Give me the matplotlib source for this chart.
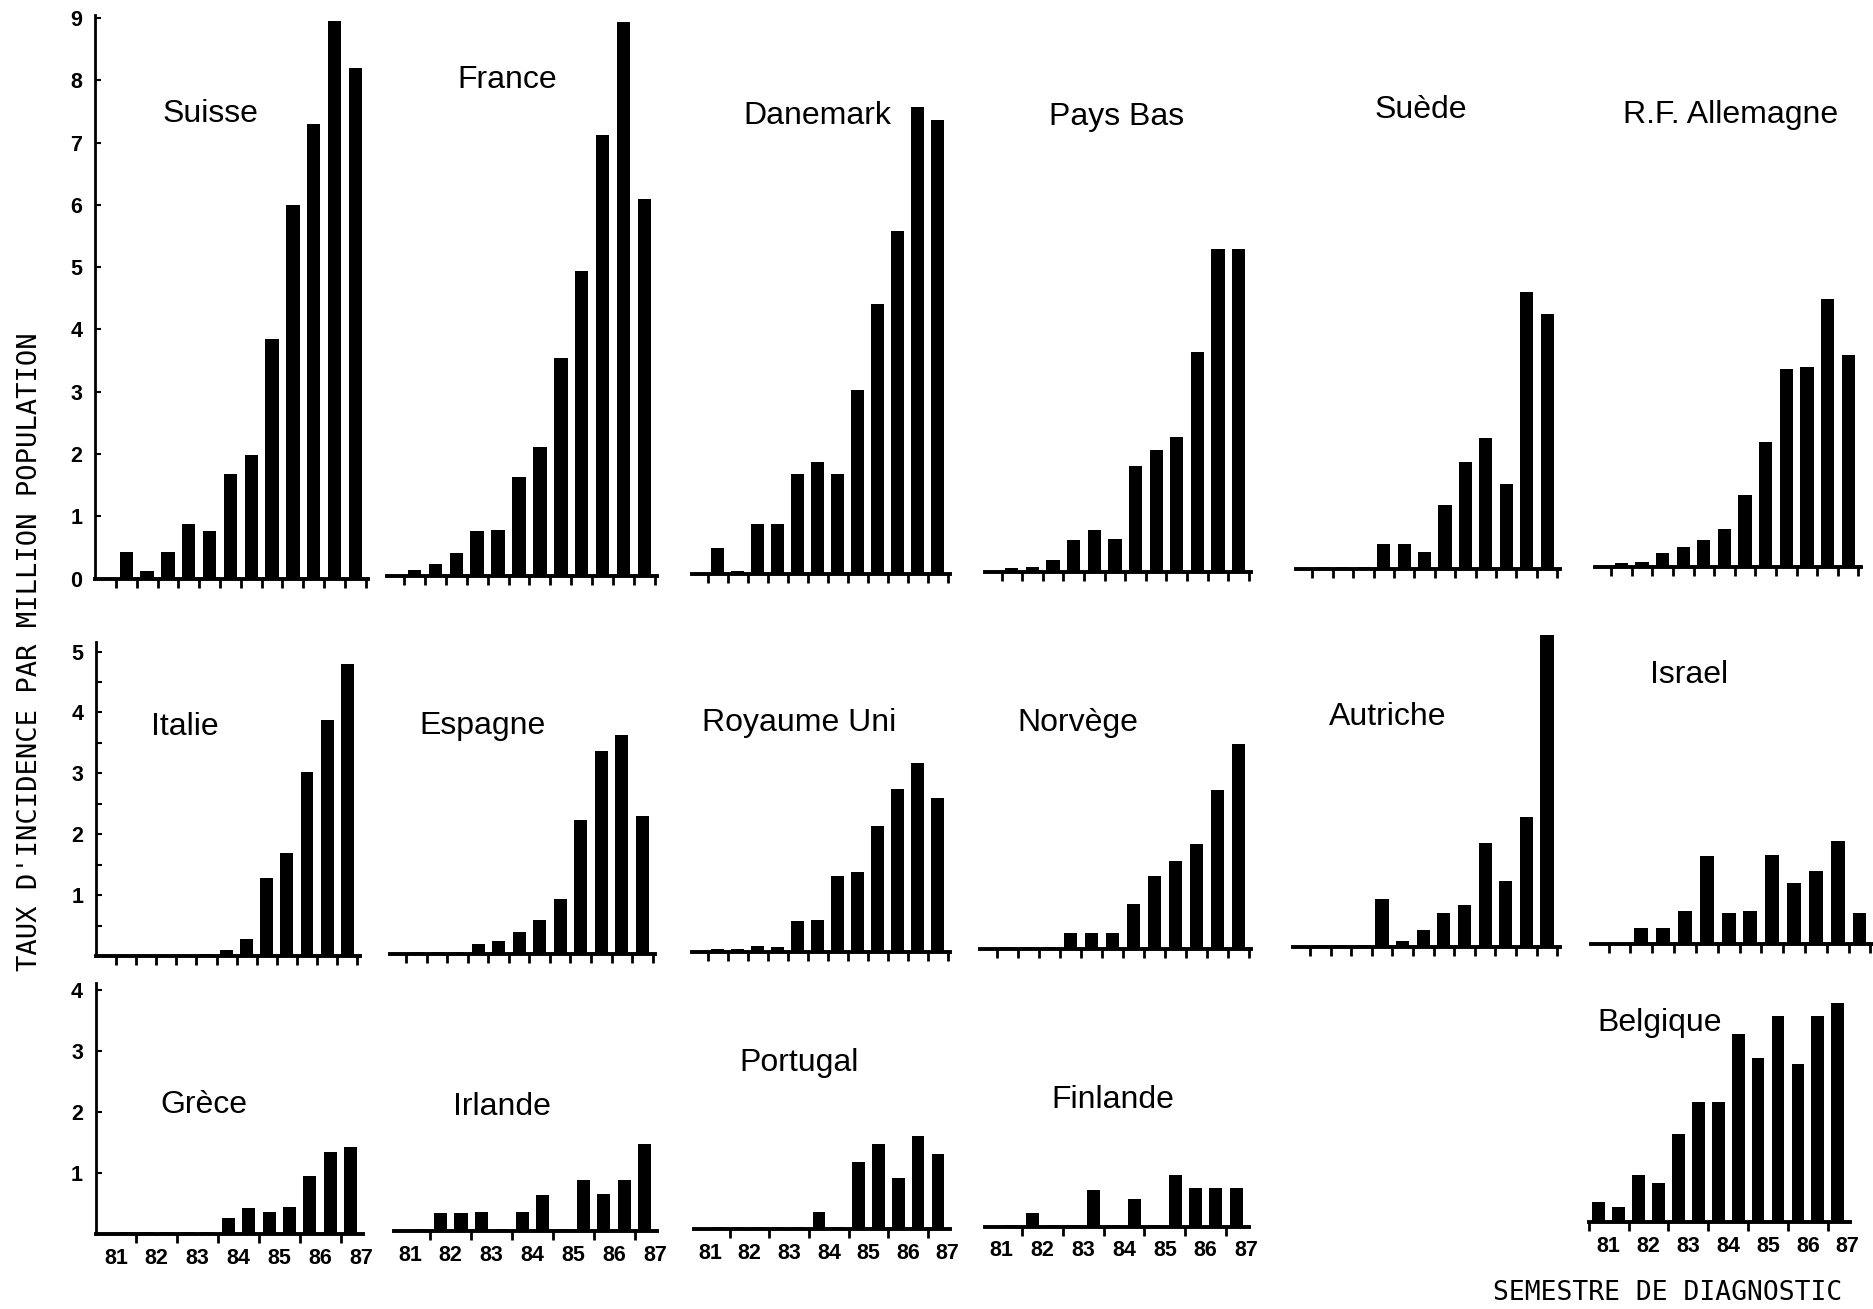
import numpy as np
import matplotlib
matplotlib.use("Agg")
import matplotlib.pyplot as plt

# ---------------- data (incidence per million, by semester 81-1 ... 86-2) ----------------
year_labels = ["81", "82", "83", "84", "85", "86", "87"]

suisse    = [0.42, 0.12, 0.42, 0.88, 0.76, 1.68, 1.98, 3.85, 6.00, 7.30, 8.95, 8.20]
france    = [0.10, 0.20, 0.38, 0.72, 0.75, 1.60, 2.07, 3.50, 4.90, 7.08, 8.90, 6.05]
danemark  = [0.42, 0.04, 0.80, 0.80, 1.60, 1.80, 1.60, 2.95, 4.33, 5.50, 7.50, 7.28]
pays_bas  = [0.05, 0.08, 0.18, 0.50, 0.66, 0.52, 1.70, 1.95, 2.16, 3.52, 5.18, 5.18]
suede     = [0.03, 0.03, 0.03, 0.40, 0.40, 0.27, 1.03, 1.72, 2.10, 1.37, 4.45, 4.10]
allemagne = [0.06, 0.07, 0.22, 0.32, 0.42, 0.60, 1.15, 2.00, 3.17, 3.20, 4.30, 3.40]

italie    = [0.02, 0.02, 0.03, 0.03, 0.04, 0.11, 0.29, 1.28, 1.69, 3.03, 3.87, 4.80]
espagne   = [0.03, 0.04, 0.04, 0.17, 0.22, 0.36, 0.55, 0.90, 2.20, 3.33, 3.60, 2.27]
royaume   = [0.04, 0.04, 0.10, 0.08, 0.50, 0.52, 1.24, 1.31, 2.06, 2.66, 3.10, 2.52]
norvege   = [0.03, 0.03, 0.03, 0.26, 0.26, 0.26, 0.75, 1.20, 1.45, 1.72, 2.62, 3.36]
autriche  = [0.03, 0.03, 0.03, 0.78, 0.10, 0.28, 0.56, 0.69, 1.70, 1.08, 2.13, 5.12]
israel    = [0.03, 0.27, 0.27, 0.54, 1.45, 0.52, 0.54, 1.46, 1.00, 1.20, 1.70, 0.52]

grece     = [0.02, 0.02, 0.02, 0.02, 0.02, 0.26, 0.42, 0.35, 0.43, 0.94, 1.34, 1.43]
irlande   = [0.04, 0.30, 0.30, 0.32, 0.04, 0.31, 0.60, 0.04, 0.84, 0.62, 0.85, 1.43]
portugal  = [0.03, 0.03, 0.03, 0.03, 0.03, 0.27, 0.03, 1.10, 1.40, 0.83, 1.53, 1.23]
finlande  = [0.03, 0.22, 0.03, 0.03, 0.60, 0.03, 0.46, 0.03, 0.84, 0.63, 0.64, 0.64]
belgique  = [0.33, 0.25, 0.77, 0.63, 1.44, 1.96, 1.96, 3.08, 2.69, 3.37, 2.58, 3.37, 3.58]  # starts 80-2

# ---------------- layout (reference pixel grid 1568 x 1095) ----------------
W, H = 1568.0, 1095.0
SKEW = 10.0
rows = {
    1: dict(base=484, vu=52.1, ytop=9.05),
    2: dict(base=800, vu=51.0, ytop=5.15),
    3: dict(base=1032, vu=51.0, ytop=4.12),
}

# name, values, row, first-col?, tick0 px, tick12 px, title x, title y, first semester index
panels = [
    ("Suisse", suisse, 1, True, 97, 306, 176, 95, 0),
    ("France", france, 1, False, 338, 548, 424, 67, 0),
    ("Danemark", danemark, 1, False, 592, 793, 684, 97, 0),
    ("Pays Bas", pays_bas, 1, False, 838, 1045, 934, 98, 0),
    ("Suède", suede, 1, False, 1098, 1303, 1189, 92, 0),
    ("R.F. Allemagne", allemagne, 1, False, 1348, 1555, 1448, 96, 0),
    ("Italie", italie, 2, True, 97, 299, 155, 608, 0),
    ("Espagne", espagne, 2, False, 340, 546, 404, 607, 0),
    ("Royaume Uni", royaume, 2, False, 592, 793, 669, 605, 0),
    ("Norvège", norvege, 2, False, 834, 1045, 902, 605, 0),
    ("Autriche", autriche, 2, False, 1096, 1303, 1161, 600, 0),
    ("Israel", israel, 2, False, 1346, 1565, 1413, 565, 0),
    ("Grèce", grece, 3, True, 97, 302, 171, 924, 0),
    ("Irlande", irlande, 3, False, 343, 548, 420, 926, 0),
    ("Portugal", portugal, 3, False, 594, 793, 669, 889, 0),
    ("Finlande", finlande, 3, False, 838, 1043, 931, 920, 0),
    ("Belgique", belgique, 3, False, 1346, 1546, 1389, 856, -1),
]

TITLE_FONT = ["Liberation Sans", "DejaVu Sans"]
DIGIT_FONT = ["Liberation Sans Narrow", "Liberation Sans", "DejaVu Sans"]
MONO_FONT = ["DejaVu Sans Mono"]
DIGIT_SIZE = 15.5

fig = plt.figure(figsize=(18.74, 13.09), dpi=100)
fig.patch.set_facecolor("white")

for name, vals, row, firstcol, t0, t12, tx, ty, start in panels:
    r = rows[row]
    u = (t12 - t0) / 12.0
    xl = -1.0 if (firstcol or start < 0) else -0.8
    xr = 12.12
    base = r["base"] - SKEW * (t0 - 97) / 1250.0
    left_px = t0 + xl * u
    width_px = (xr - xl) * u
    height_px = r["ytop"] * r["vu"]
    ax = fig.add_axes([left_px / W, 1 - base / H, width_px / W, height_px / H])
    ax.patch.set_alpha(0)

    n = len(vals)
    x = np.arange(start, start + n) + 0.5
    ax.bar(x, vals, width=0.64, color="black", linewidth=0, zorder=2)

    ax.set_xlim(xl, xr)
    ax.set_ylim(0, r["ytop"])

    for s in ("top", "right"):
        ax.spines[s].set_visible(False)
    ax.spines["bottom"].set_linewidth(2.8)
    ax.spines["bottom"].set_zorder(3)
    if firstcol:
        ax.spines["left"].set_linewidth(2.0)
    else:
        ax.spines["left"].set_visible(False)

    # semester boundary ticks
    ax.set_xticks(np.arange(start, 13), minor=True)
    ax.tick_params(axis="x", which="minor", direction="out", length=6.5, width=2.0, color="black")
    if row == 3:
        ax.set_xticks(np.arange(0, 13, 2))
        ax.set_xticklabels(year_labels)
        ax.tick_params(axis="x", which="major", length=0, pad=10)
        for lab in ax.get_xticklabels():
            lab.set_fontfamily(DIGIT_FONT)
            lab.set_fontweight("bold")
            lab.set_fontsize(DIGIT_SIZE)
    else:
        ax.set_xticks([])

    if firstcol:
        if row == 1:
            ax.set_yticks(np.arange(0, 10))
        elif row == 2:
            ax.set_yticks(np.arange(1, 6))
            ax.set_yticks(np.arange(0.5, 5.2, 0.5), minor=True)
        else:
            ax.set_yticks(np.arange(1, 5))
        ax.tick_params(axis="y", which="both", direction="in", length=4, width=1.5, pad=9)
        for lab in ax.get_yticklabels():
            lab.set_fontfamily(DIGIT_FONT)
            lab.set_fontweight("bold")
            lab.set_fontsize(DIGIT_SIZE)
    else:
        ax.set_yticks([])

    fig.text(tx / W, 1 - ty / H, name, ha="center", va="center",
             fontsize=23, family=TITLE_FONT)

fig.text(25 / W, 1 - 545 / H, "TAUX D'INCIDENCE PAR MILLION POPULATION",
         rotation=90, ha="center", va="center", fontsize=19.5, family=MONO_FONT)
fig.text(1395 / W, 1 - 1082 / H, "SEMESTRE DE DIAGNOSTIC",
         ha="center", va="center", fontsize=19, family=MONO_FONT)

fig.savefig("out.png", dpi=100, facecolor="white")
